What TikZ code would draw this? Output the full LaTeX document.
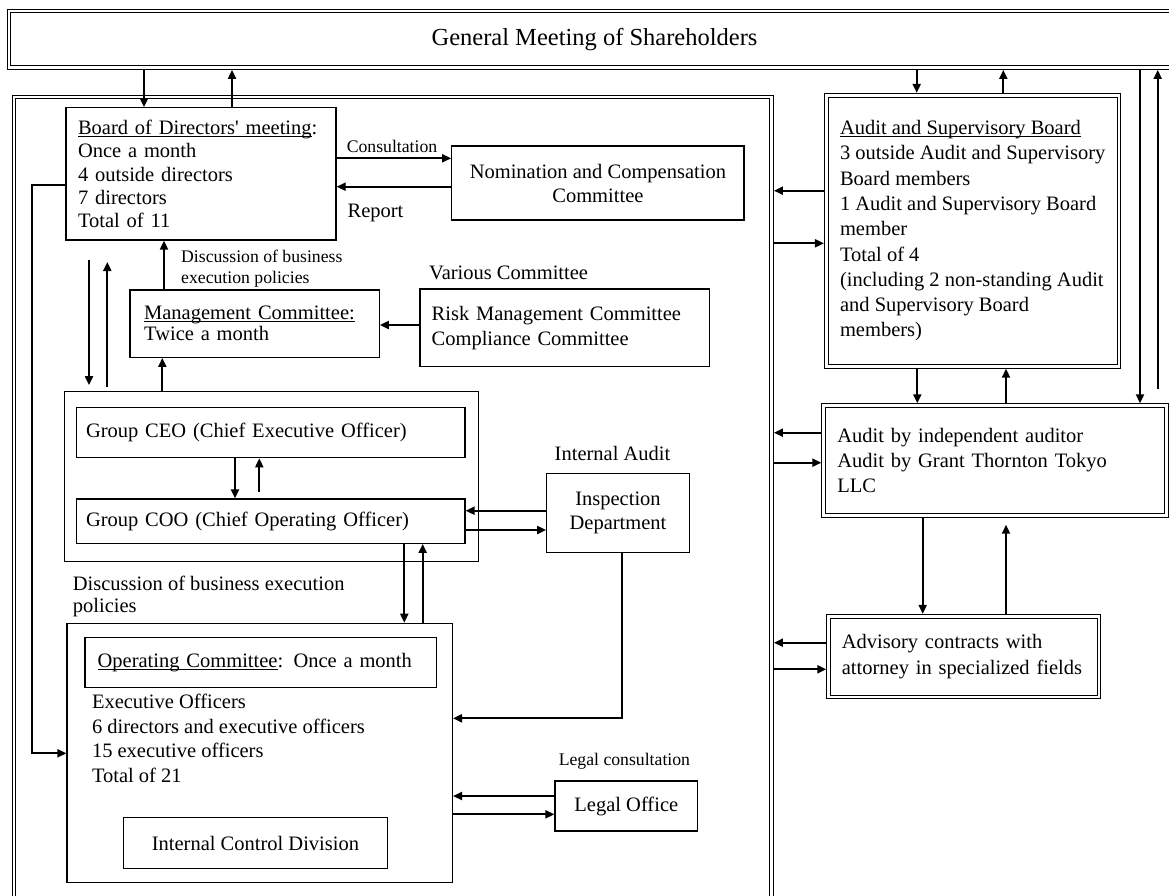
\documentclass[tikz,border=0pt]{standalone}
\usepackage{fontspec}
\setmainfont{Liberation Serif}
\usetikzlibrary{arrows.meta}
\newsavebox{\ulbox}
\newcommand{\ulin}[1]{\sbox\ulbox{#1}\rlap{\rule[-2.6pt]{\wd\ulbox}{1.1pt}}\usebox\ulbox}
\tikzset{
    box/.style={draw, line width=1.2pt, inner sep=0pt, font=\fontsize{20.5}{24.7}\selectfont},
    dbox/.style={draw, double, double distance=2.6pt, line width=1.1pt, inner sep=0pt, outer sep=2.4pt, font=\fontsize{20.5}{25.3}\selectfont},
    txt/.style={inner sep=0pt, font=\fontsize{20.5}{21.7}\selectfont},
    smalltxt/.style={inner sep=0pt, font=\fontsize{17.7}{21}\selectfont},
    arr/.style={-{Triangle[length=9pt,width=8pt]}, line width=2pt}
}
\begin{document}
\begin{tikzpicture}[x=1pt,y=-1pt]
    \useasboundingbox (0,0) rectangle (1169,895);
    \node[dbox, minimum width=1171pt, minimum height=56.5pt, font=\fontsize{24.5}{28}\selectfont] (gm) at (594.5,39.25) {General Meeting of Shareholders};
    \node[dbox, minimum width=757.5pt, minimum height=808pt] (corp) at (392.75,501) {};
    \node[box, minimum width=270pt, minimum height=132.3pt, text width=246pt, align=left, font=\fontsize{20.5}{23.3}\selectfont] (board) at (201,173.9)
    {\ulin{Board of Directors\textquotesingle\ meeting}:\\Once a month\\4 outside directors\\7 directors\\Total of 11};
    \node[box, minimum width=292.3pt, minimum height=74pt, align=center, font=\fontsize{20.5}{24}\selectfont] (nomin) at (597.9,183) {Nomination and Compensation\\Committee};
    \node[box, minimum width=249.3pt, minimum height=67.3pt, text width=221pt, align=left, font=\fontsize{20.5}{21}\selectfont] (mgmt) at (254.65,323.65) {\ulin{Management Committee:}\\Twice a month};
    \node[box, minimum width=289.3pt, minimum height=77.7pt, text width=266pt, align=left, font=\fontsize{20.5}{25}\selectfont] (risk) at (564.65,327.85) {Risk Management Committee\\Compliance Committee};
    \node[box, minimum width=414pt, minimum height=170pt] (grp) at (271.3,476.7) {};
    \node[box, minimum width=388.3pt, minimum height=50.4pt, text width=369.7pt, align=left] (ceo) at (270.85,432.5) {Group CEO (Chief Executive Officer)};
    \node[box, minimum width=388.3pt, minimum height=44.3pt, text width=369.7pt, align=left] (coo) at (270.85,521.15) {Group COO (Chief Operating Officer)};
    \node[box, minimum width=142.6pt, minimum height=79pt, align=center, font=\fontsize{20.5}{23.7}\selectfont] (insp) at (618,512.8) {Inspection\\Department};
    \node[box, minimum width=385.4pt, minimum height=259.4pt] (oper) at (259.7,753) {};
    \node[box, minimum width=351.3pt, minimum height=50pt, text width=326pt, align=left] (opc) at (260.65,662.3) {\ulin{Operating Committee}: Once a month};
    \node[txt, anchor=north west, align=left, font=\fontsize{20.5}{24.7}\selectfont] (opmem) at (91.8,693.7)
    {Executive Officers\\6 directors and executive officers\\15 executive officers\\Total of 21};
    \node[box, minimum width=263.7pt, minimum height=50.6pt] (icd) at (255.45,843) {Internal Control Division};
    \node[box, minimum width=142.6pt, minimum height=50pt] (legal) at (626.3,806) {Legal Office};
    \node[dbox, minimum width=292.7pt, minimum height=271pt, align=left] (audb) at (972.7,230.8)
    {\ulin{Audit and Supervisory Board}\\3 outside Audit and Supervisory\\Board members\\1 Audit and Supervisory Board\\member\\Total of 4\\(including 2 non-standing Audit\\and Supervisory Board\\members)};
    \node[dbox, minimum width=342.6pt, minimum height=109.6pt, text width=315.4pt, align=left, font=\fontsize{20.5}{24.7}\selectfont] (aud) at (995,460.5)
    {Audit by independent auditor\\Audit by Grant Thornton Tokyo\\LLC};
    \node[dbox, minimum width=270.3pt, minimum height=80.7pt, text width=244pt, align=left, font=\fontsize{20.5}{26}\selectfont] (adv) at (963.85,656.65)
    {Advisory contracts with\\attorney in specialized fields};
    \node[smalltxt] (conslbl) at (392,146) {Consultation};
    \node[txt] (replbl) at (375.5,213.2) {Report};
    \node[smalltxt, anchor=north west, align=left] (disclbl) at (181,249.9) {Discussion of business\\execution policies};
    \node[txt, anchor=base west] (varlbl) at (429,279) {Various Committee};
    \node[txt, anchor=base] (intlbl) at (612.5,460.7) {Internal Audit};
    \node[txt, anchor=north west, align=left] (disc2lbl) at (72.7,576) {Discussion of business execution\\policies};
    \node[smalltxt, anchor=base] (legallbl) at (624.4,765) {Legal consultation};
    \coordinate (bdtop) at (89,260);
    \coordinate (butop) at (107.3,262);
    \draw[arr] (gm.south -| 144,0) -- (board.north -| 144,0);
    \draw[arr] (board.north -| 232,0) -- (gm.south -| 232,0);
    \draw[arr] (board.east |- 0,158.3) -- (nomin.west |- 0,158.3);
    \draw[arr] (nomin.west |- 0,186.7) -- (board.east |- 0,186.7);
    \draw[arr] (board.west |- 0,185) -- (32,185) -- (32,753.3) -- (oper.west |- 0,753.3);
    \draw[arr] (mgmt.north -| 164,0) -- (board.south -| 164,0);
    \draw[arr, shorten >=6pt] (bdtop) -- (grp.north -| bdtop);
    \draw[arr, shorten <=4pt] (grp.north -| butop) -- (butop);
    \draw[arr] (grp.north -| 162.3,0) -- (mgmt.south -| 162.3,0);
    \draw[arr] (risk.west |- 0,325) -- (mgmt.east |- 0,325);
    \draw[arr] (ceo.south -| 235,0) -- (coo.north -| 235,0);
    \draw[arr, shorten <=6pt] (coo.north -| 259.3,0) -- (ceo.south -| 259.3,0);
    \draw[arr] (insp.west |- 0,510.7) -- (coo.east |- 0,510.7);
    \draw[arr] (coo.east |- 0,530) -- (insp.west |- 0,530);
    \draw[arr] (coo.south -| 404.3,0) -- (oper.north -| 404.3,0);
    \draw[arr] (oper.north -| 422.7,0) -- (coo.south -| 422.7,0);
    \draw[arr] (insp.south -| 621.7,0) |- (oper.east |- 0,718.3);
    \draw[arr] (legal.west |- 0,796) -- (oper.east |- 0,796);
    \draw[arr] (oper.east |- 0,814.3) -- (legal.west |- 0,814.3);
    \draw[arr] (gm.south -| 916.7,0) -- (audb.north -| 916.7,0);
    \draw[arr] (audb.north -| 1003.3,0) -- (gm.south -| 1003.3,0);
    \draw[arr] (audb.west |- 0,190.7) -- (corp.east |- 0,190.7);
    \draw[arr] (corp.east |- 0,243.3) -- (audb.west |- 0,243.3);
    \draw[arr] (audb.south -| 917.3,0) -- (aud.north -| 917.3,0);
    \draw[arr] (aud.north -| 1006,0) -- (audb.south -| 1006,0);
    \draw[arr] (gm.south -| 1140,0) -- (aud.north -| 1140,0);
    \draw[arr, shorten <=14pt] (aud.north -| 1157.7,0) -- (gm.south -| 1157.7,0);
    \draw[arr] (aud.west |- 0,432.7) -- (corp.east |- 0,432.7);
    \draw[arr] (corp.east |- 0,462.7) -- (aud.west |- 0,462.7);
    \draw[arr] (aud.south -| 922.7,0) -- (adv.north -| 922.7,0);
    \draw[arr, shorten >=7pt] (adv.north -| 1006,0) -- (aud.south -| 1006,0);
    \draw[arr] (adv.west |- 0,642.7) -- (corp.east |- 0,642.7);
    \draw[arr] (corp.east |- 0,669.3) -- (adv.west |- 0,669.3);
\end{tikzpicture}
\end{document}
